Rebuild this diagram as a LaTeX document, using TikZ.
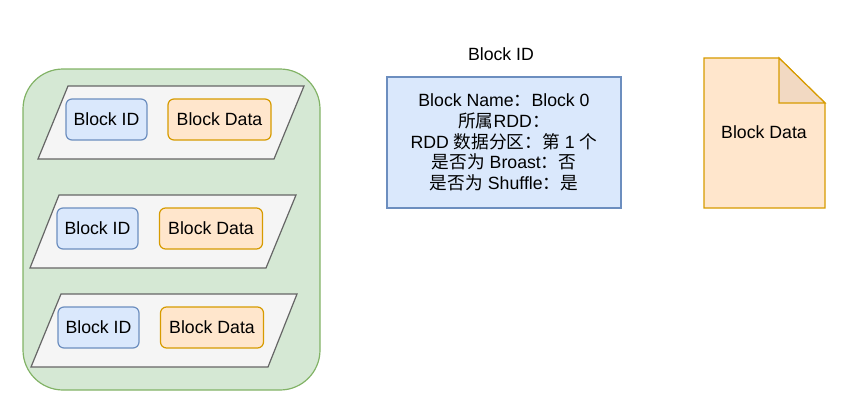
\documentclass[tikz,border=0pt]{standalone}
\usepackage{fontspec}
\setmainfont{Liberation Sans}
\newfontfamily\cjk{Noto Sans CJK SC}
\newcommand{\zh}[1]{{\cjk #1}}
\definecolor{greenfill}{HTML}{D5E8D4}
\definecolor{greenline}{HTML}{82B366}
\definecolor{greyfill}{HTML}{F5F5F5}
\definecolor{greyline}{HTML}{666666}
\definecolor{bluefill}{HTML}{DAE8FC}
\definecolor{blueline}{HTML}{6C8EBF}
\definecolor{orangefill}{HTML}{FFE6CC}
\definecolor{orangeline}{HTML}{D79B00}
\definecolor{foldfill}{HTML}{F2D9C2}
\begin{document}
\begin{tikzpicture}[x=1pt,y=-1pt,
		every node/.style={font=\fontsize{17.7}{20.7}\selectfont},
		container/.style={draw=greenline,fill=greenfill,line width=1.2pt,rounded corners=40pt},
		slab/.style={draw=greyline,fill=greyfill,line width=1.2pt},
		idbox/.style={draw=blueline,fill=bluefill,line width=1.2pt,rounded corners=6pt,minimum width=81pt,minimum height=41pt,inner sep=0pt},
		databox/.style={draw=orangeline,fill=orangefill,line width=1.2pt,rounded corners=6pt,minimum width=103pt,minimum height=41pt,inner sep=0pt},
		infobox/.style={draw=blueline,fill=bluefill,line width=1.2pt,minimum width=234pt,minimum height=131pt,align=center,inner sep=0pt},
		docshape/.style={draw=orangeline,fill=orangefill,line width=1.2pt},
		fold/.style={draw=orangeline,fill=foldfill,line width=1.2pt}]
			\useasboundingbox (0,0) rectangle (845,412);
			% block manager side
			\draw[container] (23,69) rectangle (320,390);
			\draw[slab] (68,86) -- (304,86) -- (274,159) -- (38,159) -- cycle;
			\draw[slab] (59,195) -- (296,195) -- (266,268) -- (30,268) -- cycle;
			\draw[slab] (61,294) -- (297,294) -- (268,367) -- (31,367) -- cycle;
			\node[idbox] (id1) at (106.5,119.5) {Block ID};
			\node[databox] (data1) at (219.5,119.5) {Block Data};
			\node[idbox] (id2) at (97.5,228.5) {Block ID};
			\node[databox] (data2) at (211,228.5) {Block Data};
			\node[idbox] (id3) at (98.5,327.5) {Block ID};
			\node[databox] (data3) at (212,327.5) {Block Data};
			% block id detail
			\node (title) at (501,54) {Block ID};
			\node[infobox] (info) at (504,142.5) {Block Name\zh{：}Block 0\\
				\zh{所属}RDD\zh{：}\\
				RDD \zh{数据分区：第} 1 \zh{个}\\
				\zh{是否为} Broast\zh{：否}\\
				\zh{是否为} Shuffle\zh{：是}};
			% block data file
			\draw[docshape] (704,58) -- (779,58) -- (825,103) -- (825,208) -- (704,208) -- cycle;
			\draw[fold] (779,58) -- (779,103) -- (825,103) -- cycle;
			\node (doc) at (764,132) {Block Data};
		\end{tikzpicture}
\end{document}
